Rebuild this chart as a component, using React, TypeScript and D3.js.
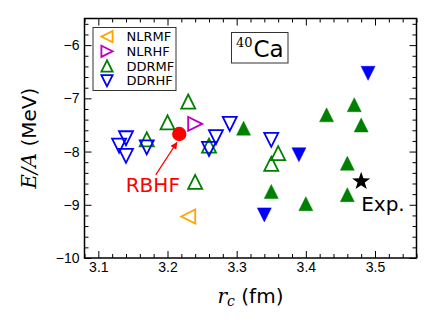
import React, { useRef, useEffect } from 'react';
import * as d3 from 'd3';

const width = 436;
const height = 327;
const plotLeft = 84.5;
const plotRight = 416.5;
const plotTop = 18.5;
const plotBottom = 258;

// values: r_c in fm, E/A in MeV
const nlrmfR = [3.23];
const nlrmfE = [-9.22];
const nlrhfR = [3.24];
const nlrhfE = [-7.48];
const ddrmfR = [3.23, 3.20, 3.17, 3.24, 3.26, 3.36, 3.35];
const ddrmfE = [-7.06, -7.45, -7.77, -8.57, -7.89, -8.03, -8.23];
const ddrhfR = [3.13, 3.14, 3.14, 3.17, 3.27, 3.26, 3.29, 3.35];
const ddrhfE = [-7.89, -7.75, -8.08, -7.92, -7.73, -7.95, -7.48, -7.78];
const ddrmfFilledR = [3.31, 3.43, 3.47, 3.48, 3.46, 3.35, 3.40, 3.46];
const ddrmfFilledE = [-7.56, -7.31, -7.12, -7.50, -8.22, -8.75, -8.98, -8.81];
const ddrhfFilledR = [3.49, 3.39, 3.34];
const ddrhfFilledE = [-6.53, -8.06, -9.19];
const rbhfR = [3.217];
const rbhfE = [-7.67];
const expR = [3.48];
const expE = [-8.56];

const xTicks = [3.1, 3.2, 3.3, 3.4, 3.5];
const yTicks = [-10, -9, -8, -7, -6];
const legendLabels = ['NLRMF', 'NLRHF', 'DDRMF', 'DDRHF'];

// annotation anchors (data coords)
const rbhfLabelAt = [3.1396, -8.755];
const arrowFrom = [3.183, -8.44];
const arrowTo = [3.2135, -7.83];
const expLabelAt = [3.48, -9.12];

const x = d3.scaleLinear().domain([3.08, 3.56]).range([plotLeft, plotRight]);
const y = d3.scaleLinear().domain([-10, -5.5]).range([plotBottom, plotTop]);

const h = 7;
const shapes = {
  left: `M${-h},0L${h},${-h}L${h},${h}Z`,
  right: `M${h},0L${-h},${-h}L${-h},${h}Z`,
  up: `M0,${-h}L${-h},${h}L${h},${h}Z`,
  down: `M0,${h}L${-h},${-h}L${h},${-h}Z`,
};
const starPath = (() => {
  const pts = d3.range(10).map(i => {
    const a = -Math.PI / 2 + i * Math.PI / 5;
    const r = i % 2 === 0 ? 9.5 : 3.8;
    return [r * Math.cos(a), r * Math.sin(a)];
  });
  return 'M' + pts.map(p => p.join(',')).join('L') + 'Z';
})();

const sans = '"DejaVu Sans", sans-serif';
const serif = '"DejaVu Serif", serif';

function drawChart(node: SVGGElement) {
  const g = d3.select(node);
  g.selectAll('*').remove();

  const series = [
    { r: nlrmfR, e: nlrmfE, shape: shapes.left, color: '#ffa500', filled: false },
    { r: nlrhfR, e: nlrhfE, shape: shapes.right, color: '#bf00bf', filled: false },
    { r: ddrmfR, e: ddrmfE, shape: shapes.up, color: '#008000', filled: false },
    { r: ddrhfR, e: ddrhfE, shape: shapes.down, color: '#0000ff', filled: false },
    { r: ddrmfFilledR, e: ddrmfFilledE, shape: shapes.up, color: '#008000', filled: true },
    { r: ddrhfFilledR, e: ddrhfFilledE, shape: shapes.down, color: '#0000ff', filled: true },
  ];

  series.forEach(s => {
    g.append('g').selectAll('path')
      .data(d3.range(s.r.length))
      .join('path')
      .attr('transform', i => `translate(${x(s.r[i])},${y(s.e[i])})`)
      .attr('d', s.shape)
      .attr('fill', s.filled ? s.color : 'none')
      .attr('stroke', s.color)
      .attr('stroke-width', s.filled ? 0.5 : 1.8)
      .attr('stroke-linejoin', 'miter');
  });

  g.selectAll('circle.rbhf')
    .data(d3.range(rbhfR.length))
    .join('circle')
    .attr('class', 'rbhf')
    .attr('cx', i => x(rbhfR[i]))
    .attr('cy', i => y(rbhfE[i]))
    .attr('r', 7.2)
    .attr('fill', 'red');

  g.selectAll('path.exp')
    .data(d3.range(expR.length))
    .join('path')
    .attr('class', 'exp')
    .attr('transform', i => `translate(${x(expR[i])},${y(expE[i])})`)
    .attr('d', starPath)
    .attr('fill', 'black');

  // annotations
  g.append('line')
    .attr('x1', x(arrowFrom[0])).attr('y1', y(arrowFrom[1]))
    .attr('x2', x(arrowTo[0])).attr('y2', y(arrowTo[1]))
    .attr('stroke', 'red').attr('stroke-width', 1.3)
    .attr('marker-end', 'url(#arrowhead)');
  g.append('text')
    .attr('x', x(rbhfLabelAt[0])).attr('y', y(rbhfLabelAt[1]))
    .attr('font-family', sans).attr('font-size', 20).attr('fill', 'red')
    .text('RBHF');
  g.append('text')
    .attr('x', x(expLabelAt[0])).attr('y', y(expLabelAt[1]))
    .attr('font-family', sans).attr('font-size', 20).attr('fill', 'black')
    .text('Exp.');

  // axes, ticks inward on all sides
  const xMinor = d3.range(3.08, 3.561, 0.02).filter(v => !xTicks.some(t => Math.abs(t - v) < 1e-6));
  const yMinor = d3.range(-10, -5.49, 0.2).filter(v => !yTicks.some(t => Math.abs(t - v) < 1e-6));

  const axes = g.append('g').attr('font-family', sans);
  axes.append('g').attr('transform', `translate(0,${plotBottom})`)
    .call(d3.axisBottom(x).tickValues(xTicks).tickSize(-7).tickPadding(4).tickFormat(d3.format('.1f')));
  axes.append('g').attr('transform', `translate(0,${plotBottom})`)
    .call(d3.axisBottom(x).tickValues(xMinor).tickSize(-4).tickFormat(() => ''));
  axes.append('g').attr('transform', `translate(0,${plotTop})`)
    .call(d3.axisTop(x).tickValues(xTicks).tickSize(-7).tickFormat(() => ''));
  axes.append('g').attr('transform', `translate(0,${plotTop})`)
    .call(d3.axisTop(x).tickValues(xMinor).tickSize(-4).tickFormat(() => ''));
  axes.append('g').attr('transform', `translate(${plotLeft},0)`)
    .call(d3.axisLeft(y).tickValues(yTicks).tickSize(-7).tickPadding(5).tickFormat(d3.format('d')));
  axes.append('g').attr('transform', `translate(${plotLeft},0)`)
    .call(d3.axisLeft(y).tickValues(yMinor).tickSize(-4).tickFormat(() => ''));
  axes.append('g').attr('transform', `translate(${plotRight},0)`)
    .call(d3.axisRight(y).tickValues(yTicks).tickSize(-7).tickFormat(() => ''));
  axes.append('g').attr('transform', `translate(${plotRight},0)`)
    .call(d3.axisRight(y).tickValues(yMinor).tickSize(-4).tickFormat(() => ''));
  axes.selectAll('.domain').remove();
  axes.selectAll('.tick line').attr('stroke', 'black').attr('stroke-width', 1);
  axes.selectAll('.tick text').attr('font-size', 14).attr('fill', 'black');

  g.append('rect')
    .attr('x', plotLeft).attr('y', plotTop)
    .attr('width', plotRight - plotLeft).attr('height', plotBottom - plotTop)
    .attr('fill', 'none').attr('stroke', 'black').attr('stroke-width', 1.5);

  // legend
  const legend = g.append('g');
  legend.append('rect')
    .attr('x', 93).attr('y', 27.5).attr('width', 83).attr('height', 63)
    .attr('fill', 'white').attr('stroke', '#333').attr('stroke-width', 1);
  const legendShapes = [shapes.left, shapes.right, shapes.up, shapes.down];
  const legendColors = ['#ffa500', '#bf00bf', '#008000', '#0000ff'];
  legendLabels.forEach((label, i) => {
    const cy = 36.6 + i * 14.7;
    legend.append('path')
      .attr('transform', `translate(107,${cy}) scale(0.8)`)
      .attr('d', legendShapes[i])
      .attr('fill', 'none')
      .attr('stroke', legendColors[i])
      .attr('stroke-width', 2.3);
    legend.append('text')
      .attr('x', 126.5).attr('y', cy)
      .attr('dy', '0.36em')
      .attr('font-family', sans).attr('font-size', 13)
      .text(label);
  });

  // nucleus label
  const tag = g.append('g');
  tag.append('rect')
    .attr('x', 231.5).attr('y', 32.5).attr('width', 56.5).attr('height', 30.5)
    .attr('fill', 'white').attr('stroke', '#333').attr('stroke-width', 1);
  tag.append('text')
    .attr('x', 236).attr('y', 46.5)
    .attr('font-family', serif).attr('font-size', 13)
    .text('40');
  tag.append('text')
    .attr('x', 253.5).attr('y', 56.5)
    .attr('font-family', sans).attr('font-size', 23)
    .text('Ca');

  // axis titles
  const xl = g.append('text')
    .attr('x', (plotLeft + plotRight) / 2).attr('y', 303)
    .attr('text-anchor', 'middle').attr('font-size', 20);
  xl.append('tspan').attr('font-family', serif).attr('font-style', 'italic').text('r');
  xl.append('tspan').attr('font-family', serif).attr('font-style', 'italic')
    .attr('font-size', 14).attr('dy', 3).text('c');
  xl.append('tspan').attr('font-family', sans).attr('dy', -3).text('\u00a0(fm)');

  const yl = g.append('text')
    .attr('transform', `translate(36,${(plotTop + plotBottom) / 2}) rotate(-90)`)
    .attr('text-anchor', 'middle').attr('font-size', 20);
  yl.append('tspan').attr('font-family', serif).attr('font-style', 'italic').text('E/A');
  yl.append('tspan').attr('font-family', sans).text('\u00a0(MeV)');
}

const App = () => {
  const ref = useRef<SVGGElement>(null);

  useEffect(() => {
    if (ref.current) drawChart(ref.current);
  }, []);

  return (
    <svg width={width} height={height} style={{ position: 'absolute', left: 0, top: 0, background: 'white' }}>
      <defs>
        <marker id="arrowhead" viewBox="0 0 10 10" refX="9" refY="5"
          markerWidth="8" markerHeight="7" markerUnits="userSpaceOnUse" orient="auto">
          <path d="M0,0L10,5L0,10Z" fill="red" />
        </marker>
      </defs>
      <g ref={ref}></g>
    </svg>
  );
};

export default App;
